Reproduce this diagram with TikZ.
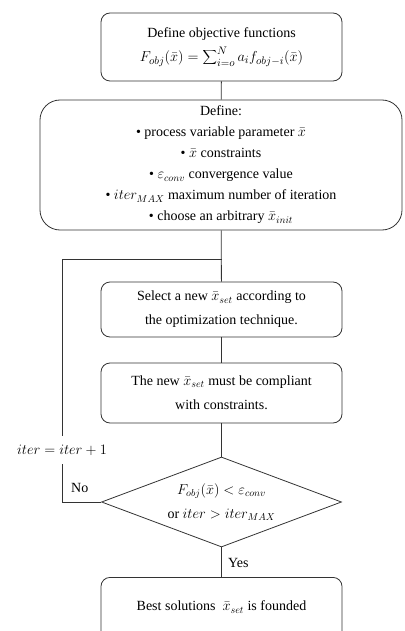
\documentclass[tikz,border=0pt]{standalone}
\usepackage{fontspec}
\setmainfont{Liberation Serif}
\usetikzlibrary{shapes.geometric}
\begin{document}
\begin{tikzpicture}[x=1pt,y=-1pt,
  every node/.style={font=\fontsize{14}{22}\selectfont},
  line/.style={draw=black!80, line width=0.8pt},
  boxa/.style={line, rounded corners=9pt, minimum width=241pt, align=center, inner sep=0pt},
  lab/.style={inner sep=1pt}]
\useasboundingbox (0,0) rectangle (404,631);
\clip (0,0) rectangle (404,631);
\node[boxa, minimum height=68pt] (b1) at (221.5,47) {Define objective functions\\[2pt]
  {\fontsize{15}{22}\selectfont$F_{obj}(\bar{x}) = \displaystyle\sum\nolimits_{i=o}^{N} a_i f_{obj-i}(\bar{x})$}};
\node[boxa, rounded corners=20pt, minimum width=362pt, minimum height=130pt, font=\fontsize{14}{21}\selectfont] (b2) at (221,165) {Define:\\
  • process variable parameter $\bar{x}$\\
  • $\bar{x}$ constraints\\
  • $\varepsilon_{conv}$ convergence value\\
  • $iter_{MAX}$ maximum number of iteration\\
  • choose an arbitrary $\bar{x}_{init}$};
\node[boxa, minimum height=55pt, font=\fontsize{14}{24}\selectfont] (b3) at (221.5,309.5) {Select a new $\bar{x}_{set}$ according to\\the optimization technique.};
\node[boxa, minimum height=60pt, font=\fontsize{14}{24}\selectfont] (b4) at (221.5,393) {The new $\bar{x}_{set}$ must be compliant\\with constraints.};
\node[line, diamond, aspect=2.67, inner sep=0pt, minimum width=240pt, minimum height=90pt, align=center, font=\fontsize{14}{24}\selectfont] (d) at (221.5,502) {$F_{obj}(\bar{x}) < \varepsilon_{conv}$\\or $iter > iter_{MAX}$};
\node[boxa, minimum height=70pt, anchor=north] (b5) at (221.5,577) {};
\node at (221.5,607) (b5t) {Best solutions \ $\bar{x}_{set}$ is founded};
\node[inner xsep=0pt, inner ysep=9pt] (it) at (62,450) {$iter = iter + 1$};
\coordinate (j) at (221.5,259);
\node[lab, anchor=west] (no) at (70,488) {No};
\node[lab, anchor=west] (yes) at (227,563) {Yes};
\draw[line] (b1) -- (b2);
\draw[line] (b2) -- (b3);
\draw[line] (b3) -- (b4);
\draw[line] (b4) -- (d);
\draw[line] (d) -- (b5);
\draw[line] (d.west) -| (it.south);
\draw[line] (it.north) |- (j);
\end{tikzpicture}
\end{document}
